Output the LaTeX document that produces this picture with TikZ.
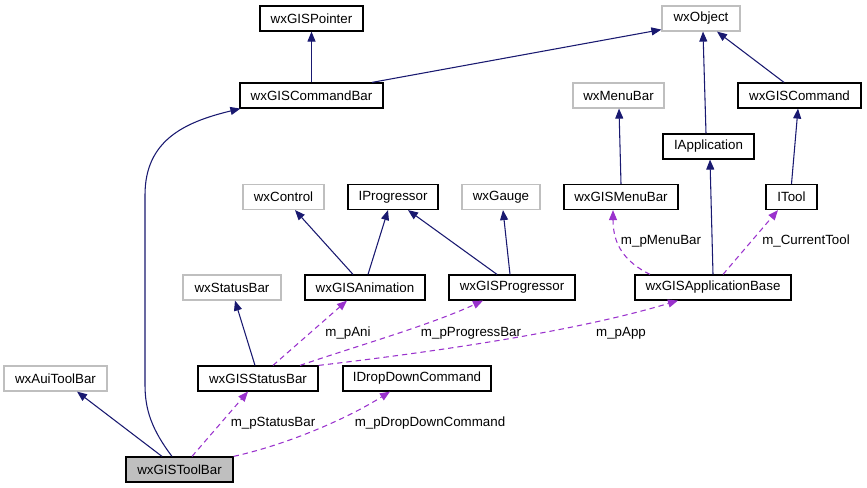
\documentclass[tikz,border=0pt]{standalone}
\usepackage{fontspec}
\setmainfont{Liberation Sans}
\usetikzlibrary{arrows.meta,calc}
\definecolor{edgeblue}{HTML}{191970}
\definecolor{edgepurple}{HTML}{9A32CD}
\definecolor{boxgrey}{HTML}{BFBFBF}
\begin{document}
\begin{tikzpicture}[x=0.75pt,y=-0.75pt,
  box/.style={draw=black,line width=0.9pt,rectangle,inner sep=0pt,minimum height=18.75pt,font=\fontsize{10}{12}\selectfont},
  gbox/.style={box,draw=boxgrey},
  inh/.style={edgeblue,line width=0.8pt,-{Triangle[length=7.5pt,width=6pt]}},
  use/.style={edgepurple,line width=0.8pt,dash pattern=on 4pt off 3pt,-{Triangle[length=7.5pt,width=6pt]}},
  lbl/.style={font=\fontsize{10}{12}\selectfont,inner sep=0pt}]
\useasboundingbox (0,0) rectangle (867,488);
% nodes
\node[box,minimum width={103*0.75pt}] (ptr) at (311.5,18.5) {wxGISPointer};
\node[box,minimum width={143*0.75pt}] (cbar) at (311.5,95.5) {wxGISCommandBar};
\node[gbox,minimum width={78*0.75pt}] (obj) at (701,18.5) {wxObject};
\node[gbox,minimum width={91*0.75pt}] (menubar) at (618.5,95.5) {wxMenuBar};
\node[box,minimum width={123*0.75pt}] (cmd) at (799.5,95.5) {wxGISCommand};
\node[box,minimum width={91*0.75pt}] (iapp) at (708.5,146.5) {IApplication};
\node[gbox,minimum width={81*0.75pt}] (ctrl) at (283.5,197) {wxControl};
\node[box,minimum width={90*0.75pt}] (iprog) at (393,197) {IProgressor};
\node[gbox,minimum width={78*0.75pt}] (gauge) at (501,197) {wxGauge};
\node[box,minimum width={114*0.75pt}] (gmenu) at (621,197) {wxGISMenuBar};
\node[box,minimum width={51*0.75pt}] (itool) at (791.5,197) {ITool};
\node[gbox,minimum width={98*0.75pt}] (sbar) at (232,287.5) {wxStatusBar};
\node[box,minimum width={120*0.75pt}] (anim) at (365,287.5) {wxGISAnimation};
\node[box,minimum width={126*0.75pt}] (gprog) at (512,287.5) {wxGISProgressor};
\node[box,minimum width={156*0.75pt}] (appbase) at (713,287.5) {wxGISApplicationBase};
\node[gbox,minimum width={103*0.75pt}] (aui) at (55.5,378.5) {wxAuiToolBar};
\node[box,minimum width={120*0.75pt}] (gsbar) at (258,378.5) {wxGISStatusBar};
\node[box,minimum width={148*0.75pt}] (dd) at (417,378.5) {IDropDownCommand};
\node[box,fill=boxgrey,minimum width={107*0.75pt}] (tb) at (179.5,469.5) {wxGISToolBar};
% inheritance edges
\draw[inh] (cbar.north) -- (ptr.south);
\draw[inh] ($(cbar.north)+(60.5,0)$) -- ($(obj.south west)+(0,-2)$);
\draw[inh] ($(iapp.north)+(-2.5,0)$) -- ($(obj.south)+(2,0)$);
\draw[inh] ($(cmd.north)+(-15.5,0)$) -- ($(obj.south)+(16,0)$);
\draw[inh] (gmenu.north) -- ($(menubar.south)+(0.5,0)$);
\draw[inh] (itool.north) -- ($(cmd.south)+(-1.5,0)$);
\draw[inh] (appbase.north) -- ($(iapp.south)+(1.5,0)$);
\draw[inh] ($(anim.north)+(-12,0)$) -- ($(ctrl.south)+(11.5,0)$);
\draw[inh] ($(anim.north)+(3,0)$) -- ($(iprog.south)+(-5,0)$);
\draw[inh] ($(gprog.north)+(-15,0)$) -- ($(iprog.south)+(15,0)$);
\draw[inh] ($(gprog.north)+(-2,0)$) -- ($(gauge.south)+(2,0)$);
\draw[inh] ($(gsbar.north)+(-3,0)$) -- ($(sbar.south)+(3,0)$);
\draw[inh] ($(tb.north)+(-17.5,0)$) -- ($(aui.south)+(21.5,0)$);
\draw[inh] ($(tb.north)+(-7.5,0)$) .. controls (152,430) and (145,410) .. (145,385)
  -- (145,195) .. controls (145,140) and (185,122) .. ($(cbar.south west)+(1,0)$);
% usage edges
\draw[use] ($(gsbar.north)+(15,0)$) -- ($(anim.south)+(-18,0)$);
\node[lbl] (lani) at (348,333) {m\_pAni};
\draw[use] ($(gsbar.north)+(42,0)$) .. controls (360,345) and (430,325) .. ($(gprog.south)+(-29,0)$);
\node[lbl] (lprog) at (471,333) {m\_pProgressBar};
\draw[use] (gsbar.north east) .. controls (450,350) and (580,330) .. ($(appbase.south)+(-35,0)$);
\node[lbl] (lapp) at (621,333) {m\_pApp};
\draw[use] ($(tb.north)+(12.5,0)$) -- ($(gsbar.south)+(-10,0)$);
\node[lbl] (lsb) at (273,423) {m\_pStatusBar};
\draw[use] (tb.north east) .. controls (285,445) and (345,420) .. ($(dd.south)+(-27,0)$);
\node[lbl] (ldd) at (430,423) {m\_pDropDownCommand};
\draw[use] ($(appbase.north)+(-63,0)$) .. controls (625,262) and (613,245) .. ($(gmenu.south)+(-8,0)$);
\node[lbl] (lmb) at (661,241) {m\_pMenuBar};
\draw[use] ($(appbase.north)+(10,0)$) -- ($(itool.south)+(-13.5,0)$);
\node[lbl] (lct) at (806,241) {m\_CurrentTool};
\end{tikzpicture}
\end{document}
